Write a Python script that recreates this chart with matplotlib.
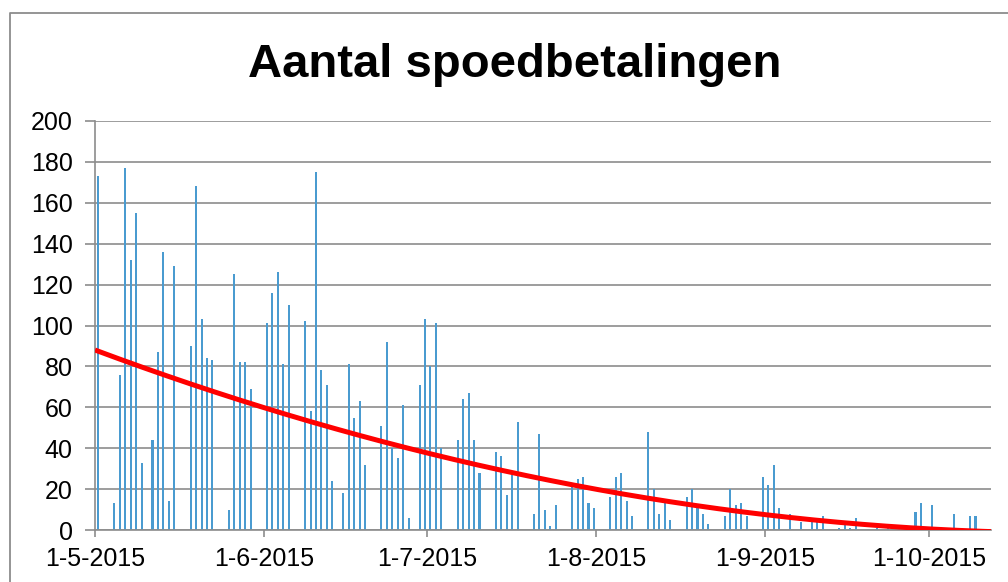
import numpy as np
import pandas as pd
import matplotlib
matplotlib.use("Agg")
import matplotlib.pyplot as plt
import matplotlib.dates as mdates
from matplotlib.ticker import FuncFormatter, MultipleLocator
from matplotlib.lines import Line2D

plt.rcParams['font.family'] = ['Liberation Sans', 'DejaVu Sans']

# data: day offset from 1-5-2015 and number of payments
start = pd.Timestamp('2015-05-01')
days = [0, 3, 4, 5, 6, 7, 8, 10, 11, 12, 13, 14, 17, 18, 19, 20, 21, 24, 25, 26, 27, 28,
        31, 32, 33, 34, 35, 38, 39, 40, 41, 42, 43, 45, 46, 47, 48, 49, 52, 53, 54, 55, 56, 57,
        59, 60, 61, 62, 63, 66, 67, 68, 69, 70, 73, 74, 75, 76, 77, 80, 81, 82, 83, 84,
        87, 88, 89, 90, 91, 94, 95, 96, 97, 98, 101, 102, 103, 104, 105, 108, 109, 110, 111, 112,
        115, 116, 117, 118, 119, 122, 123, 124, 125, 127, 129, 131, 132, 133, 136, 137, 138, 139,
        143, 145, 147, 150, 151, 153, 157, 160, 161]
counts = [173, 13, 76, 177, 132, 155, 33, 44, 87, 136, 14, 129, 90, 168, 103, 84, 83, 10, 125, 82, 82, 69,
          101, 116, 126, 81, 110, 102, 58, 175, 78, 71, 24, 18, 81, 55, 63, 32, 51, 92, 40, 35, 61, 6,
          71, 103, 80, 101, 40, 44, 64, 67, 44, 28, 38, 36, 17, 27, 53, 8, 47, 10, 2, 12,
          22, 25, 26, 13, 11, 16, 26, 28, 14, 7, 48, 20, 8, 13, 5, 16, 20, 11, 8, 3,
          7, 20, 12, 13, 7, 26, 22, 32, 11, 8, 4, 4, 4, 7, 1, 3, 1, 6,
          1, 1, 1, 9, 13, 12, 8, 7, 7]

title = 'Aantal spoedbetalingen'

days = np.array(days)
counts = np.array(counts, dtype=float)
x = mdates.date2num(start) + days + 0.55

# second order trend line; days without payments count as 0
all_days = np.arange(0, days.max() + 1)
all_counts = np.zeros(len(all_days))
all_counts[days] = counts
coef = np.polyfit(all_days, all_counts, 2)
x_end = mdates.date2num(start) + 164.4
xt = np.linspace(mdates.date2num(start), x_end, 300)
yt = np.polyval(coef, xt - x[0])

fig = plt.figure(figsize=(10.08, 5.82), dpi=100)
ax = fig.add_axes([95/1008, 1-530/582, (991-95)/1008, (530-121)/582])

grey = '#8c8c8c'
ax.bar(x, counts, width=0.38, color='#4a9bd0', zorder=2)
ax.plot(xt, yt, color='#ff0000', lw=3.6, zorder=3, solid_capstyle='butt')

ax.set_xlim(mdates.date2num(start), x_end)
ax.set_ylim(0, 200)
ax.yaxis.set_major_locator(MultipleLocator(20))
ax.xaxis.set_major_locator(mdates.MonthLocator(bymonthday=1))
ax.xaxis.set_major_formatter(FuncFormatter(
    lambda v, p: '{d.day}-{d.month}-{d.year}'.format(d=mdates.num2date(v))))

ax.grid(axis='y', color=grey, lw=1.2, zorder=0)
ax.set_axisbelow(True)
for s in ['top', 'right']:
    ax.spines[s].set_visible(False)
for s in ['left', 'bottom']:
    ax.spines[s].set_color(grey)
    ax.spines[s].set_linewidth(1.2)
ax.tick_params(axis='y', length=7, width=1.2, color=grey, labelsize=18, pad=9)
ax.tick_params(axis='x', length=5, width=1.2, color=grey, labelsize=18, pad=7)

fig.text(515/1008, 1-77/582, title, ha='center', va='baseline',
         fontsize=34, fontweight='bold')

# chart border (only left and top visible in the crop)
fig.add_artist(Line2D([9.5/1008, 9.5/1008, 1], [0, 1-13/582, 1-13/582],
                      transform=fig.transFigure, color=grey, lw=1.3))

fig.savefig('out.png', dpi=100)
